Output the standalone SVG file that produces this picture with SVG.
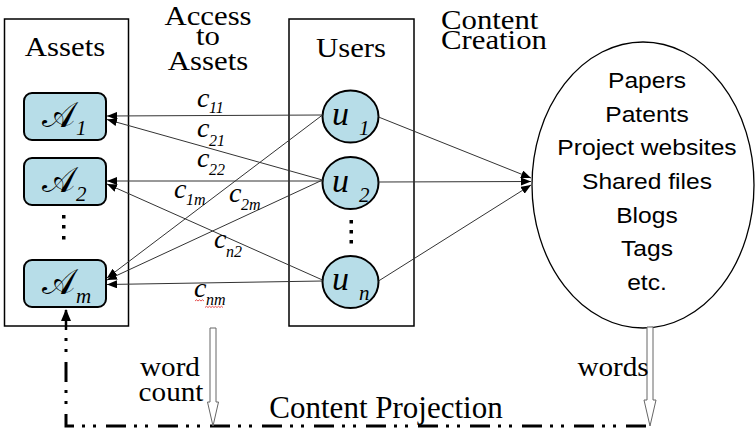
<svg xmlns="http://www.w3.org/2000/svg" width="755" height="433" viewBox="0 0 755 433">
<defs>
<style>
.box{fill:none;stroke:#000;stroke-width:1.5}
.node{fill:#b7dde8;stroke:#000;stroke-width:2}
.edge{stroke:#333;stroke-width:1;fill:none}
.hdr{font-family:"Liberation Serif","Times New Roman",serif;font-size:27px;fill:#000}
.mid{text-anchor:middle}
.sans{font-family:"Liberation Sans",Arial,sans-serif;font-size:22px;text-anchor:middle;fill:#000}
.mi{font-family:"Liberation Serif","Times New Roman",serif;font-style:italic;fill:#000}
.cal{font-family:"DejaVu Serif","DejaVu Sans","Noto Sans",serif;font-size:35px;fill:#000}
.c{font-size:28px}
.cs{font-size:16px}
.sub{font-size:21px}
.u{font-size:34px}
.hollow{fill:#fff;stroke:#666;stroke-width:1}
.proj{fill:none;stroke:#000;stroke-width:3;stroke-dasharray:20 8 3 8 3 10;stroke-dashoffset:20}
.squig{fill:none;stroke:#d22;stroke-width:0.8}
</style>
<marker id="ah" viewBox="0 0 10 8" refX="10" refY="4" markerWidth="10" markerHeight="8" markerUnits="userSpaceOnUse" orient="auto"><path d="M0,0 L10,4 L0,8 z" fill="#000"/></marker>
<marker id="ahb" viewBox="0 0 12 10" refX="11" refY="5" markerWidth="12" markerHeight="10" markerUnits="userSpaceOnUse" orient="auto"><path d="M0,0 L12,5 L0,10 z" fill="#000"/></marker>
</defs>
<rect width="755" height="433" fill="#fff"/>

<g id="headers">
<text class="hdr mid" transform="translate(208 25) scale(1.14 1)">Access</text>
<text class="hdr mid" transform="translate(208 45) scale(1.14 1)">to</text>
<text class="hdr mid" transform="translate(208 70) scale(1.14 1)">Assets</text>
<text class="hdr" transform="translate(441 29) scale(1.14 1)">Content</text>
<text class="hdr" transform="translate(441 49) scale(1.14 1)">Creation</text>
</g>

<g id="assets">
<rect class="box" x="4.5" y="19" width="124" height="307"/>
<text class="hdr mid" transform="translate(65 56) scale(1.14 1)">Assets</text>
<rect x="62" y="215" width="3.5" height="3.5"/>
<rect x="62" y="225" width="3.5" height="3.5"/>
<rect x="62" y="236" width="3.5" height="3.5"/>
</g>
<g id="A1">
<rect class="node" x="24" y="93" width="82" height="47" rx="8"/>
<text class="cal" x="42" y="127">𝒜</text><text class="mi sub" x="76" y="135">1</text>
</g>
<g id="A2">
<rect class="node" x="24" y="158" width="82" height="47" rx="8"/>
<text class="cal" x="42" y="192">𝒜</text><text class="mi sub" x="76" y="201">2</text>
</g>
<g id="Am">
<rect class="node" x="24" y="260" width="82" height="47" rx="8"/>
<text class="cal" x="42" y="294">𝒜</text><text class="mi sub" x="76" y="303">m</text>
</g>

<g id="users">
<rect class="box" x="289" y="19" width="125" height="307"/>
<text class="hdr mid" transform="translate(351 57) scale(1.14 1)">Users</text>
<rect x="349.5" y="220" width="3.5" height="3.5"/>
<rect x="349.5" y="230" width="3.5" height="3.5"/>
<rect x="349.5" y="240" width="3.5" height="3.5"/>
</g>
<g id="u1">
<ellipse class="node" cx="350.5" cy="116.5" rx="28" ry="26"/>
<text class="mi u" x="332" y="125">u</text><text class="mi sub" x="359" y="135">1</text>
</g>
<g id="u2">
<ellipse class="node" cx="350.5" cy="183" rx="28" ry="26"/>
<text class="mi u" x="332" y="192">u</text><text class="mi sub" x="359" y="202">2</text>
</g>
<g id="un">
<ellipse class="node" cx="350.5" cy="282" rx="28" ry="26"/>
<text class="mi u" x="332" y="290">u</text><text class="mi sub" x="359" y="300">n</text>
</g>

<g id="content">
<ellipse cx="643" cy="185" rx="111" ry="143" fill="#fff" stroke="#000" stroke-width="1.3"/>
<text class="sans" transform="translate(647 88) scale(1.12 1)">Papers</text>
<text class="sans" transform="translate(647 122) scale(1.12 1)">Patents</text>
<text class="sans" transform="translate(647 155) scale(1.12 1)">Project websites</text>
<text class="sans" transform="translate(647 189) scale(1.12 1)">Shared files</text>
<text class="sans" transform="translate(647 223) scale(1.12 1)">Blogs</text>
<text class="sans" transform="translate(647 256) scale(1.12 1)">Tags</text>
<text class="sans" transform="translate(647 290) scale(1.12 1)">etc.</text>
</g>

<g id="connectors">
<path class="edge" d="M322.5 115 L107 116" marker-end="url(#ah)"/>
<path class="edge" d="M322.5 180 L107 119.5" marker-end="url(#ah)"/>
<path class="edge" d="M322.5 181 L107 181" marker-end="url(#ah)"/>
<path class="edge" d="M322.5 115 L107 278" marker-end="url(#ah)"/>
<path class="edge" d="M322.5 180 L107 280" marker-end="url(#ah)"/>
<path class="edge" d="M322.5 280 L107 184" marker-end="url(#ah)"/>
<path class="edge" d="M322.5 281 L107 284.5" marker-end="url(#ah)"/>
<path class="edge" d="M378.5 117 L531 178" marker-end="url(#ah)"/>
<path class="edge" d="M378.5 182 L531 181.5" marker-end="url(#ah)"/>
<path class="edge" d="M378.5 281 L531 185" marker-end="url(#ah)"/>
<path d="M66 330 V310" stroke="#000" stroke-width="2.5" fill="none" marker-end="url(#ahb)"/>
<path class="proj" d="M66 330 V426 H653"/>
<polygon class="hollow" points="210,328 216,328 216,402 218.5,402 213,426 207.5,402 210,402"/>
<polygon class="hollow" points="647,327 653,327 653,400 656,400 650,426 644,400 647,400"/>
</g>

<g id="edge-labels">
<text class="mi c" x="197" y="107">c</text><text class="mi cs" x="209" y="113">11</text>
<text class="mi c" x="197" y="137">c</text><text class="mi cs" x="209" y="146">21</text>
<text class="mi c" x="197" y="167">c</text><text class="mi cs" x="209" y="175">22</text>
<text class="mi c" x="174" y="198">c</text><text class="mi cs" x="186" y="205">1m</text>
<text class="mi c" x="229" y="202">c</text><text class="mi cs" x="241" y="210">2m</text>
<text class="mi c" x="214" y="248">c</text><text class="mi cs" x="226" y="257">n2</text>
<text class="mi c" x="194" y="297">c</text><text class="mi cs" x="206" y="305">nm</text>
<path class="squig" d="M195 301 l1.5 -1.2 l1.5 1.2 l1.5 -1.2 l1.5 1.2 l1.5 -1.2 l1.5 1.2"/>
<path class="squig" d="M205 307.5 l1.5 -1.2 l1.5 1.2 l1.5 -1.2 l1.5 1.2 l1.5 -1.2 l1.5 1.2 l1.5 -1.2 l1.5 1.2 l1.5 -1.2 l1.5 1.2 l1.5 -1.2 l1.5 1.2"/>
<text class="hdr mid" transform="translate(170 376) scale(1.08 1)">word</text>
<text class="hdr mid" transform="translate(171 401) scale(1.08 1)">count</text>
<text class="hdr mid" transform="translate(613 376) scale(1.08 1)">words</text>
<text class="hdr mid" style="font-size:31px" x="386" y="418">Content Projection</text>
</g>
</svg>
